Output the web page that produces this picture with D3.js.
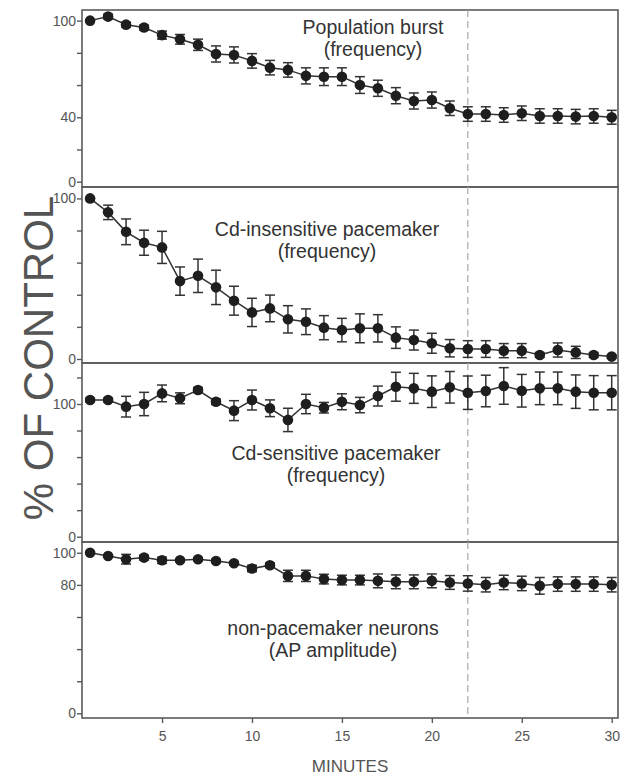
<!DOCTYPE html>
<html>
<head>
<meta charset="utf-8">
<script src="https://cdn.jsdelivr.net/npm/d3@7"></script>
<style>
  html, body { margin: 0; padding: 0; background: #fff; }
  svg { display: block; font-family: "Liberation Sans", Arial, sans-serif; }
</style>
</head>
<body>
<svg id="chart" width="620" height="775"></svg>
<script>
const minutes = d3.range(1, 31);
const dashedAt = 22;

// population burst frequency
const burstMean = [100, 102.5, 97.5, 95.7, 91, 88.4, 85, 79.3, 78.7, 75, 70.8, 69.4, 65.7, 65.2, 65.2,
  60, 58, 53.4, 50.1, 50.7, 45.6, 42, 42, 41.4, 42.5, 40.8, 40.8, 40.4, 40.8, 40];
const burstErr = [0, 1.5, 1.5, 1.5, 2.5, 3, 3.5, 5, 5, 4.5, 4.5, 4.5, 5, 5.5, 5.5,
  5.2, 5, 5, 5, 5, 4.5, 4.5, 4.5, 4.5, 4.5, 4.5, 4.5, 4.5, 4.5, 4.3];

// Cd-insensitive pacemaker frequency
const insensMean = [100, 91.3, 79.2, 72.4, 69.5, 48.5, 51.8, 44.6, 36.3, 29, 31.5, 24.7, 23.2, 19.5, 18,
  19.1, 19.1, 13.3, 11.8, 9.8, 6.7, 6.2, 6.2, 5.2, 5.2, 2.5, 5.6, 4.1, 2.5, 1.5];
const insensErr = [0, 4.5, 8, 7.8, 10, 8.8, 10.4, 10.7, 9, 8.8, 8.3, 8.5, 8, 7.5, 7.3,
  9, 8.5, 6.7, 6.2, 6.2, 5.4, 5.2, 5.2, 4.4, 4.4, 1.5, 4.4, 3.8, 1.5, 1];

// Cd-sensitive pacemaker frequency
const sensMean = [103, 103, 98, 100, 108, 104.3, 110.5, 101.7, 95, 103, 96.8, 88, 100, 97.2, 101.7,
  99.2, 106, 113, 111.8, 109.3, 112.6, 108.5, 109.8, 113.6, 110, 111.8, 111.8, 109.3, 108.5, 108.5];
const sensErr = [1.5, 1.5, 7.8, 8.8, 6.3, 4.1, 2, 2, 7.5, 7.5, 6.3, 8.8, 7.3, 4, 6,
  5.8, 7.5, 10.9, 11.3, 11.9, 11.9, 12.6, 11.9, 13.8, 12.3, 12.3, 12.3, 12.6, 12.9, 12.9];

// non-pacemaker neurons AP amplitude
const apMean = [100, 98, 96, 97, 95.3, 95.3, 96, 94.9, 93.5, 90.2, 92.2, 85.6, 85.6, 83.6, 83,
  83, 82.5, 81.9, 81.9, 82.5, 81.5, 80.9, 80.1, 81.5, 80.9, 79.4, 80.5, 80.5, 80.5, 80.1];
const apErr = [0.5, 0.5, 3, 1.5, 2, 1, 1, 1, 1, 2, 1.5, 3.5, 3.5, 3, 3,
  3, 4.3, 4.3, 4.3, 4.3, 4.3, 4.8, 4.5, 4.5, 4.5, 5.2, 4.5, 4.5, 4.5, 4.5];

const xTicks = [5, 10, 15, 20, 25, 30];

const panels = [
  { mean: burstMean, err: burstErr, title: ["Population burst", "(frequency)"],
    top: 10, bottom: 187, domain: [-3.3, 106.6], ticks: [0, 20, 40, 60, 80, 100], labels: [0, 40, 100],
    tx: 373, ty: 34 },
  { mean: insensMean, err: insensErr, title: ["Cd-insensitive pacemaker", "(frequency)"],
    top: 187, bottom: 363, domain: [-2.5, 107.1], ticks: [0, 20, 40, 60, 80, 100], labels: [0, 100],
    tx: 327, ty: 236 },
  { mean: sensMean, err: sensErr, title: ["Cd-sensitive pacemaker", "(frequency)"],
    top: 363, bottom: 542, domain: [-4, 130.9], ticks: [0, 20, 40, 60, 80, 100, 120], labels: [0, 100],
    tx: 336, ty: 460 },
  { mean: apMean, err: apErr, title: ["non-pacemaker neurons", "(AP amplitude)"],
    top: 542, bottom: 718, domain: [-2.9, 106.7], ticks: [0, 20, 40, 60, 80, 100], labels: [0, 80, 100],
    tx: 333, ty: 635 }
];

const left = 82, right = 618;
const axisCol = "#5a5a5a", dataCol = "#1e1e1e";

const svg = d3.select("#chart");
const x = d3.scaleLinear().domain([0.55, 30.35]).range([left, right]);

panels.forEach(p => {
  const y = d3.scaleLinear().domain(p.domain).range([p.bottom, p.top]);
  const g = svg.append("g");

  // frame
  g.append("rect")
    .attr("x", left).attr("y", p.top)
    .attr("width", right - left).attr("height", p.bottom - p.top)
    .attr("fill", "none").attr("stroke", axisCol).attr("stroke-width", 1.6);

  // y axis
  const yAxis = d3.axisLeft(y)
    .tickValues(p.ticks)
    .tickSize(5)
    .tickFormat(d => p.labels.includes(d) ? d : "");
  const ya = g.append("g").attr("transform", `translate(${left},0)`).call(yAxis);
  ya.select(".domain").remove();
  ya.selectAll("line").attr("stroke", axisCol).attr("stroke-width", 1.4);
  ya.selectAll("text").attr("fill", "#555").style("font-size", "14px").attr("x", -6);

  // dashed marker line
  g.append("line")
    .attr("x1", x(dashedAt)).attr("x2", x(dashedAt))
    .attr("y1", p.top).attr("y2", p.bottom)
    .attr("stroke", "#aaa").attr("stroke-width", 1.2).attr("stroke-dasharray", "7,4");

  // title
  const t = g.append("text")
    .attr("x", p.tx).attr("y", p.ty)
    .attr("text-anchor", "middle")
    .attr("fill", "#333").style("font-size", "19.5px");
  p.title.forEach((s, i) => t.append("tspan").attr("x", p.tx).attr("dy", i ? 22 : 0).text(s));

  const pts = minutes.map((m, i) => ({ m, v: p.mean[i], e: p.err[i] }));

  // line
  g.append("path")
    .datum(pts)
    .attr("fill", "none").attr("stroke", "#333").attr("stroke-width", 1.5)
    .attr("d", d3.line().x(d => x(d.m)).y(d => y(d.v)));

  // error bars
  const eb = g.selectAll(".eb").data(pts.filter(d => d.e > 0)).join("g")
    .attr("stroke", "#333").attr("stroke-width", 1.5);
  eb.append("line")
    .attr("x1", d => x(d.m)).attr("x2", d => x(d.m))
    .attr("y1", d => y(d.v - d.e)).attr("y2", d => y(d.v + d.e));
  eb.append("line")
    .attr("x1", d => x(d.m) - 5).attr("x2", d => x(d.m) + 5)
    .attr("y1", d => y(d.v + d.e)).attr("y2", d => y(d.v + d.e));
  eb.append("line")
    .attr("x1", d => x(d.m) - 5).attr("x2", d => x(d.m) + 5)
    .attr("y1", d => y(d.v - d.e)).attr("y2", d => y(d.v - d.e));

  // markers
  g.selectAll(".pt").data(pts).join("circle")
    .attr("cx", d => x(d.m)).attr("cy", d => y(d.v))
    .attr("r", 5.3).attr("fill", dataCol);
});

// x axis at bottom
const xa = svg.append("g")
  .attr("transform", `translate(0,${panels[3].bottom})`)
  .call(d3.axisBottom(x).tickValues(xTicks).tickSize(5).tickPadding(8));
xa.select(".domain").remove();
xa.selectAll("line").attr("stroke", axisCol).attr("stroke-width", 1.4);
xa.selectAll("text").attr("fill", "#555").style("font-size", "14px");

svg.append("text")
  .attr("x", (left + right) / 2).attr("y", 772)
  .attr("text-anchor", "middle").attr("fill", "#555")
  .style("font-size", "17px")
  .text("MINUTES");

svg.append("text")
  .attr("transform", "translate(53,358) rotate(-90)")
  .attr("text-anchor", "middle").attr("fill", "#555")
  .style("font-size", "42px")
  .text("% OF CONTROL");
</script>
</body>
</html>
